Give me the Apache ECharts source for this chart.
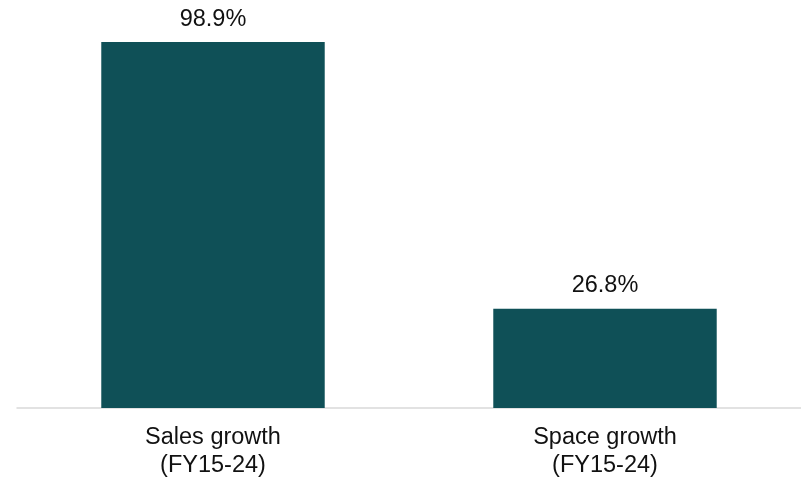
<!DOCTYPE html>
<html>
<head>
<meta charset="utf-8">
<script src="https://cdn.jsdelivr.net/npm/echarts@6/dist/echarts.min.js"></script>
<style>html,body{margin:0;padding:0;background:#fff}#c{width:801px;height:480px}</style>
</head>
<body>
<div id="c"></div>
<script>
var categories = ['Sales growth\n(FY15-24)', 'Space growth\n(FY15-24)'];
var values = [98.9, 26.8];

var FONT = '"Liberation Sans", Arial, sans-serif';
var chart = echarts.init(document.getElementById('c'), null, {renderer: 'canvas'});
chart.setOption({
  animation: false,
  grid: {left: 17, right: 0, top: 38, bottom: 70, containLabel: false},
  xAxis: {
    type: 'category',
    data: categories,
    axisLine: {show: true, lineStyle: {color: '#d9d9d9', width: 1.5}},
    axisTick: {show: false},
    axisLabel: {
      color: '#111111', fontFamily: FONT,
      fontSize: 23.5, lineHeight: 28, margin: 16
    }
  },
  yAxis: {
    type: 'value', min: 0, max: 100,
    show: false,
    splitLine: {show: false}
  },
  series: [{
    type: 'bar',
    data: values,
    barWidth: '57%',
    itemStyle: {color: '#0f5057'},
    label: {
      show: true, position: 'top', distance: 11,
      color: '#111111', fontFamily: FONT,
      fontSize: 23.5, lineHeight: 24,
      formatter: function(p){ return p.value.toFixed(1) + '%'; }
    }
  }]
});
</script>
</body>
</html>
